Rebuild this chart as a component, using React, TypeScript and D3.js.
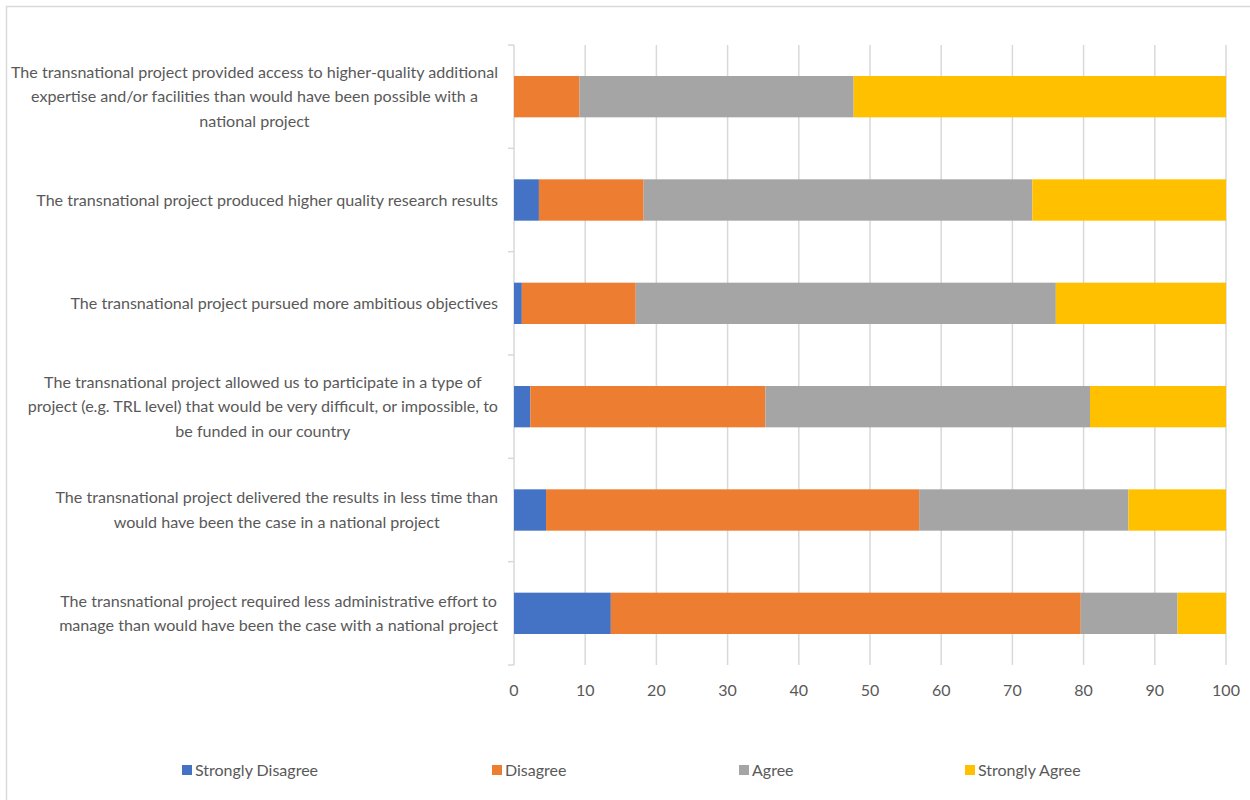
import React, { useEffect, useRef } from "react";
import * as d3 from "d3";

const categories: string[][] = [
  ["The transnational project provided access to higher-quality additional", "expertise and/or facilities than would have been possible with a", "national project"],
  ["The transnational project produced higher quality research results"],
  ["The transnational project pursued more ambitious objectives"],
  ["The transnational project allowed us to participate in a type of", "project (e.g. TRL level) that would be very difficult, or impossible, to", "be funded in our country"],
  ["The transnational project delivered the results in less time than", "would have been the case in a national project"],
  ["The transnational project required less administrative effort to", "manage than would have been the case with a national project"],
];

const seriesNames = ["Strongly Disagree", "Disagree", "Agree", "Strongly Agree"];
const seriesColors = ["#4472C4", "#ED7D31", "#A5A5A5", "#FFC000"];

const stronglyDisagree = [0, 3.5, 1.1, 2.3, 4.5, 13.6];
const disagree = [9.2, 14.7, 16.0, 33.0, 52.4, 66.0];
const agree = [38.5, 54.6, 59.0, 45.6, 29.4, 13.6];
const stronglyAgree = [52.3, 27.2, 23.9, 19.1, 13.7, 6.8];

const xTicks = [0, 10, 20, 30, 40, 50, 60, 70, 80, 90, 100];

const W = 1250;
const H = 800;
const FONT = "Lato, 'Open Sans', sans-serif";
const TEXT = "#595959";
const GRID = "#D9D9D9";

export default function App() {
  const ref = useRef<SVGSVGElement | null>(null);

  useEffect(() => {
    const svg = d3.select(ref.current);
    svg.selectAll("*").remove();

    const x = d3.scaleLinear().domain([0, 100]).range([514, 1226]);
    const y = d3
      .scaleBand<number>()
      .domain(categories.map((_, i) => i))
      .range([45, 665])
      .paddingInner(0.6)
      .paddingOuter(0.3);

    // chart border
    svg
      .append("rect")
      .attr("x", 6.5)
      .attr("y", 6.5)
      .attr("width", W + 10)
      .attr("height", H + 10)
      .attr("fill", "#fff")
      .attr("stroke", GRID)
      .attr("stroke-width", 1.5);

    // gridlines
    svg
      .append("g")
      .selectAll("line")
      .data(xTicks)
      .join("line")
      .attr("x1", (d) => x(d))
      .attr("x2", (d) => x(d))
      .attr("y1", 45)
      .attr("y2", 665)
      .attr("stroke", GRID)
      .attr("stroke-width", 1.5);

    // category ticks
    const step = y.step();
    const bounds = d3.range(categories.length + 1).map((i) => 45 + i * step);
    svg
      .append("g")
      .selectAll("line")
      .data(bounds)
      .join("line")
      .attr("x1", x(0) - 6)
      .attr("x2", x(0))
      .attr("y1", (d) => d)
      .attr("y2", (d) => d)
      .attr("stroke", GRID)
      .attr("stroke-width", 1.5);

    // stacked bars
    const table = categories.map((_, i) => ({
      i,
      s0: stronglyDisagree[i],
      s1: disagree[i],
      s2: agree[i],
      s3: stronglyAgree[i],
    }));
    const stack = d3.stack<any>().keys(["s0", "s1", "s2", "s3"]);
    const stacked = stack(table);

    svg
      .append("g")
      .selectAll("g")
      .data(stacked)
      .join("g")
      .attr("fill", (_, k) => seriesColors[k])
      .selectAll("rect")
      .data((d) => d)
      .join("rect")
      .attr("x", (d) => x(d[0]))
      .attr("width", (d) => Math.max(0, x(d[1]) - x(d[0])))
      .attr("y", (d) => y(d.data.i)!)
      .attr("height", y.bandwidth());

    // x tick labels
    svg
      .append("g")
      .selectAll("text")
      .data(xTicks)
      .join("text")
      .attr("x", (d) => x(d))
      .attr("y", 690)
      .attr("dy", "0.35em")
      .attr("text-anchor", "middle")
      .attr("font-family", FONT)
      .attr("font-size", 16)
      .attr("fill", TEXT)
      .text((d) => String(d));

    // category labels
    const lineH = 24.5;
    const lg = svg.append("g");
    categories.forEach((lines, i) => {
      const cy = y(i)! + y.bandwidth() / 2;
      const t = lg
        .append("text")
        .attr("font-family", FONT)
        .attr("font-size", 16.1)
        .attr("fill", TEXT)
        .attr("text-anchor", "middle");
      const spans = lines.map((ln, j) =>
        t
          .append("tspan")
          .attr("y", cy + (j - (lines.length - 1) / 2) * lineH)
          .attr("dy", "0.35em")
          .text(ln)
      );
      const maxW = d3.max(spans, (s) => (s.node() as SVGTSpanElement).getComputedTextLength()) || 0;
      const cx = 498 - maxW / 2;
      spans.forEach((s) => s.attr("x", cx));
    });

    // legend
    const legendX = [182, 492, 739, 965];
    const leg = svg
      .append("g")
      .selectAll("g")
      .data(seriesNames)
      .join("g")
      .attr("transform", (_, k) => `translate(${legendX[k]},770)`);
    leg
      .append("rect")
      .attr("x", 0)
      .attr("y", -5)
      .attr("width", 10)
      .attr("height", 10)
      .attr("fill", (_, k) => seriesColors[k]);
    leg
      .append("text")
      .attr("x", 13)
      .attr("y", 0)
      .attr("dy", "0.35em")
      .attr("font-family", FONT)
      .attr("font-size", 16)
      .attr("fill", TEXT)
      .text((d) => d);
  }, []);

  return (
    <svg
      ref={ref}
      width={W}
      height={H}
      style={{ position: "absolute", left: 0, top: 0, display: "block", background: "#fff" }}
    />
  );
}
